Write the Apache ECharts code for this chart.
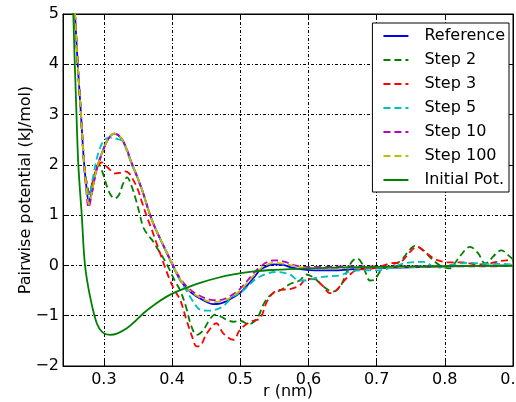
<!DOCTYPE html>
<html><head><meta charset="utf-8">
<script src="https://cdn.jsdelivr.net/npm/echarts@6/dist/echarts.min.js"></script>
<style>html,body{margin:0;padding:0;background:#fff}#c{width:516px;height:402px}</style>
</head><body><div id="c"></div>
<script>
const seriesNames = ['Reference','Step 2','Step 3','Step 5','Step 10','Step 100','Initial Pot.'];
const xTicks = [0.3,0.4,0.5,0.6,0.7,0.8,0.9];
const yTicks = [-2,-1,0,1,2,3,4,5];

const refR = [0.250,0.2576,0.2616,0.2664,0.2700,0.2740,0.2780,0.2820,0.2890,0.2970,0.3040,0.3100,0.3150,0.3200,0.3260,0.3330,0.3400,0.3500,0.3580,0.3665,0.3750,0.3870,0.3995,0.4120,0.4240,0.4360,0.4500,0.4600,0.4700,0.4800,0.4900,0.4995,0.5100,0.5200,0.5290,0.5400,0.5500,0.5630,0.5750,0.5900,0.6100,0.6400,0.6700,0.7000,0.7500,0.8000,0.8500,0.9000];
const refV = [7.0,5.0,4.0,3.0,2.2,1.6,1.27,1.45,1.9,2.23,2.46,2.58,2.62,2.6,2.52,2.33,2.06,1.72,1.42,1.05,0.75,0.40,0.04,-0.29,-0.49,-0.62,-0.72,-0.77,-0.76,-0.71,-0.63,-0.55,-0.40,-0.24,-0.09,-0.01,0.02,0.01,-0.04,-0.08,-0.10,-0.10,-0.07,-0.05,-0.04,-0.02,-0.01,0.0];

const s2R = [0.250,0.2576,0.2616,0.2664,0.2700,0.2740,0.2785,0.2840,0.2890,0.2930,0.2980,0.3050,0.3100,0.3160,0.3220,0.3280,0.3340,0.3400,0.3460,0.3520,0.3580,0.3650,0.3720,0.3800,0.3870,0.3950,0.4030,0.4120,0.4210,0.4280,0.4360,0.4450,0.4550,0.4630,0.4720,0.4800,0.4900,0.5000,0.5120,0.5200,0.5270,0.5350,0.5450,0.5580,0.5730,0.5870,0.5970,0.6050,0.6120,0.6220,0.6360,0.6450,0.6510,0.6570,0.6640,0.6710,0.6780,0.6840,0.6900,0.6970,0.7070,0.7200,0.7340,0.7450,0.7560,0.7680,0.7800,0.7930,0.8070,0.8150,0.8220,0.8370,0.8490,0.8590,0.8650,0.8710,0.8830,0.8950,0.9000];
const s2V = [7.0,5.0,4.0,3.0,2.25,1.7,1.42,1.7,1.93,2.0,1.85,1.55,1.4,1.33,1.4,1.62,1.75,1.6,1.35,1.05,0.75,0.6,0.48,0.3,0.15,-0.05,-0.28,-0.5,-0.85,-1.2,-1.38,-1.3,-1.08,-0.98,-1.02,-1.08,-1.12,-1.1,-1.17,-1.12,-1.0,-0.75,-0.58,-0.5,-0.37,-0.3,-0.18,-0.22,-0.29,-0.42,-0.52,-0.45,-0.3,-0.1,0.08,0.14,0.05,-0.15,-0.3,-0.28,-0.09,0.0,0.08,0.25,0.39,0.31,0.14,0.0,-0.06,0.05,0.18,0.37,0.24,0.04,0.08,0.18,0.3,0.18,0.12];

const s3R = [0.250,0.2576,0.2616,0.2664,0.2700,0.2740,0.2790,0.2850,0.2910,0.2970,0.3030,0.3090,0.3160,0.3230,0.3310,0.3370,0.3430,0.3500,0.3560,0.3630,0.3700,0.3770,0.3840,0.3900,0.3970,0.4040,0.4120,0.4210,0.4290,0.4360,0.4410,0.4510,0.4650,0.4750,0.4900,0.4995,0.5150,0.5290,0.5390,0.5480,0.5560,0.5730,0.5870,0.5970,0.6070,0.6220,0.6310,0.6410,0.6560,0.6710,0.6950,0.7200,0.7340,0.7490,0.7590,0.7730,0.7880,0.8070,0.8270,0.8470,0.8660,0.8900,0.9000];
const s3V = [7.0,5.0,4.0,3.0,2.25,1.7,1.45,1.75,1.97,2.05,1.98,1.9,1.83,1.84,1.87,1.83,1.7,1.5,1.25,0.97,0.72,0.45,0.18,-0.05,-0.3,-0.5,-0.69,-1.08,-1.4,-1.61,-1.6,-1.35,-1.15,-1.35,-1.48,-1.28,-1.12,-1.05,-0.72,-0.55,-0.49,-0.47,-0.4,-0.27,-0.27,-0.42,-0.55,-0.49,-0.25,-0.09,-0.06,0.04,0.06,0.27,0.37,0.24,0.11,0.06,0.06,0.02,0.04,0.1,0.09];

const s5R = [0.250,0.2576,0.2616,0.2664,0.2700,0.2740,0.2785,0.2840,0.2900,0.2970,0.3040,0.3100,0.3180,0.3260,0.3330,0.3400,0.3500,0.3580,0.3665,0.3750,0.3870,0.3995,0.4100,0.4200,0.4300,0.4410,0.4550,0.4700,0.4800,0.4890,0.4995,0.5100,0.5200,0.5290,0.5400,0.5530,0.5650,0.5730,0.5870,0.5970,0.6100,0.6270,0.6460,0.6610,0.6800,0.7000,0.7200,0.7440,0.7690,0.7880,0.8050,0.8220,0.8400,0.8570,0.8800,0.9000];
const s5V = [7.0,5.0,4.0,3.0,2.2,1.65,1.4,1.75,2.15,2.42,2.53,2.54,2.52,2.48,2.3,2.03,1.72,1.42,1.05,0.75,0.40,0.04,-0.25,-0.48,-0.7,-0.88,-0.9,-0.85,-0.75,-0.62,-0.55,-0.43,-0.3,-0.22,-0.16,-0.13,-0.15,-0.18,-0.3,-0.3,-0.25,-0.22,-0.2,-0.12,-0.1,-0.1,-0.05,0.05,0.07,-0.05,0.0,0.04,0.05,0.03,0.03,0.02];

const s10R = [0.250,0.2576,0.2616,0.2664,0.2700,0.2740,0.2775,0.2820,0.2890,0.2970,0.3040,0.3100,0.3150,0.3200,0.3260,0.3330,0.3400,0.3500,0.3580,0.3665,0.3750,0.3870,0.3995,0.4120,0.4240,0.4360,0.4500,0.4600,0.4700,0.4800,0.4900,0.5000,0.5100,0.5200,0.5300,0.5400,0.5500,0.5600,0.5700,0.5800,0.5950,0.6200,0.6500,0.7000,0.7500,0.8000,0.8500,0.9000];
const s10V = [7.0,5.0,4.0,3.0,2.15,1.5,1.15,1.4,1.88,2.22,2.46,2.58,2.62,2.6,2.52,2.33,2.06,1.72,1.42,1.05,0.75,0.41,0.06,-0.26,-0.45,-0.57,-0.66,-0.69,-0.69,-0.65,-0.57,-0.46,-0.31,-0.15,-0.02,0.07,0.1,0.09,0.05,0.0,-0.03,-0.03,-0.02,-0.02,-0.02,-0.02,-0.02,-0.01];

const s100R = [0.250,0.2576,0.2616,0.2664,0.2700,0.2740,0.2780,0.2820,0.2890,0.2970,0.3040,0.3100,0.3150,0.3200,0.3260,0.3330,0.3400,0.3500,0.3580,0.3665,0.3750,0.3870,0.3995,0.4120,0.4240,0.4360,0.4500,0.4600,0.4700,0.4800,0.4900,0.5000,0.5100,0.5200,0.5300,0.5400,0.5500,0.5600,0.5750,0.5900,0.6200,0.6600,0.7000,0.7500,0.8000,0.8500,0.9000];
const s100V = [7.0,5.0,4.0,3.0,2.2,1.58,1.22,1.42,1.9,2.23,2.46,2.58,2.62,2.6,2.52,2.33,2.06,1.72,1.42,1.05,0.75,0.41,0.05,-0.28,-0.48,-0.6,-0.7,-0.73,-0.72,-0.68,-0.6,-0.5,-0.35,-0.2,-0.06,0.02,0.05,0.04,0.0,-0.04,-0.06,-0.05,-0.04,-0.03,-0.02,-0.01,0.0];

const initR = [0.250,0.2551,0.2598,0.2625,0.2675,0.2723,0.2797,0.2895,0.2980,0.3090,0.3200,0.3336,0.3450,0.3580,0.3750,0.3920,0.4050,0.4220,0.4400,0.4660,0.4900,0.5200,0.5500,0.6000,0.6500,0.7000,0.7500,0.8000,0.8500,0.9000];
const initV = [8.2,5.0,3.0,2.0,1.0,0.0,-0.62,-1.15,-1.33,-1.38,-1.35,-1.25,-1.12,-0.95,-0.77,-0.62,-0.53,-0.44,-0.35,-0.25,-0.18,-0.12,-0.09,-0.06,-0.04,-0.03,-0.02,-0.015,-0.01,-0.01];

const colors = ['#0000ff','#008000','#ff0000','#00bfbf','#bf00bf','#bfbf00','#008000'];
const dashed = [false,true,true,true,true,true,false];
const allR = [refR,s2R,s3R,s5R,s10R,s100R,initR];
const allV = [refV,s2V,s3V,s5V,s10V,s100V,initV];

const FONT = 'DejaVu Sans';
const chart = echarts.init(document.getElementById('c'), null, {renderer:'canvas'});
const series = seriesNames.map((n,i)=>({
  name:n, type:'line', xAxisIndex:0, yAxisIndex:0,
  data: allR[i].map((r,k)=>[r, allV[i][k]]),
  showSymbol:false, symbol:'none', smooth:0.35, clip:true,
  lineStyle:{color:colors[i], width:1.8, type: dashed[i] ? [7,4] : 'solid'},
  itemStyle:{color:colors[i]},
  emphasis:{disabled:true}, animation:false
}));
const fmtNum = v => String(v).replace('-', '\u2212');
chart.setOption({
  animation:false,
  backgroundColor:'#fff',
  textStyle:{fontFamily:FONT},
  grid:{left:63, right:3, top:14, bottom:36, show:true, borderColor:'#000', borderWidth:1, backgroundColor:'transparent', containLabel:false, outerBoundsMode:'none'},
  legend:{
    orient:'vertical', right:7, top:23,
    backgroundColor:'#fff', borderColor:'#000', borderWidth:1, borderRadius:0,
    padding:[5,4,4,10], itemWidth:25, itemHeight:16, itemGap:8,
    itemStyle:{opacity:0},
    textStyle:{fontFamily:FONT, fontSize:16, color:'#000', padding:[0,0,0,11]},
    data:seriesNames
  },
  xAxis:[{
    type:'value', min:0.24, max:0.9, splitNumber:7,
    name:'r (nm)', nameLocation:'middle', nameGap:18, nameMoveOverlap:false,
    nameTextStyle:{fontFamily:FONT, fontSize:16, color:'#000'},
    axisLine:{show:true, onZero:false, lineStyle:{color:'#000', width:1}},
    axisTick:{show:true, inside:true, length:5, lineStyle:{color:'#000'}},
    axisLabel:{show:true, fontFamily:FONT, fontSize:16, color:'#000', margin:6, showMinLabel:false, hideOverlap:false,
      formatter: v => xTicks.some(t=>Math.abs(t-v)<1e-9) ? fmtNum(+v.toFixed(1)) : ''},
    splitLine:{show:true, lineStyle:{color:'#000', width:1, type:[3,2,1,2]}}
  },{
    type:'value', min:0.24, max:0.9, splitNumber:7, position:'top',
    axisLine:{show:true, onZero:false, lineStyle:{color:'#000'}},
    axisTick:{show:true, inside:true, length:5, lineStyle:{color:'#000'}},
    axisLabel:{show:false}, splitLine:{show:false}
  }],
  yAxis:[{
    type:'value', min:-2, max:5, interval:1,
    name:'Pairwise potential (kJ/mol)', nameLocation:'middle', nameGap:29, nameMoveOverlap:false,
    nameTextStyle:{fontFamily:FONT, fontSize:16, color:'#000'},
    axisLine:{show:true, onZero:false, lineStyle:{color:'#000', width:1}},
    axisTick:{show:true, inside:true, length:5, lineStyle:{color:'#000'}},
    axisLabel:{show:true, fontFamily:FONT, fontSize:16, color:'#000', margin:4,
      formatter: v => yTicks.includes(v) ? fmtNum(v) : ''},
    splitLine:{show:true, lineStyle:{color:'#000', width:1, type:[3,2,1,2]}}
  },{
    type:'value', min:-2, max:5, interval:1, position:'right',
    axisLine:{show:true, onZero:false, lineStyle:{color:'#000'}},
    axisTick:{show:true, inside:true, length:5, lineStyle:{color:'#000'}},
    axisLabel:{show:false}, splitLine:{show:false}
  }],
  series: series
});
</script></body></html>
